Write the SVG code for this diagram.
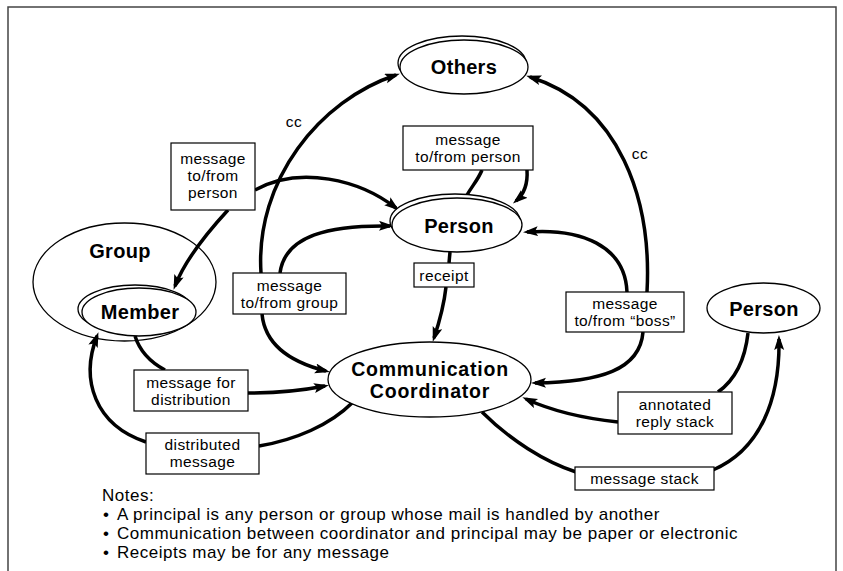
<svg xmlns="http://www.w3.org/2000/svg" width="843" height="571" viewBox="0 0 843 571">
<style>
  .frame{fill:none;stroke:#444;stroke-width:1.5}
  .node{fill:#fff;stroke:#000;stroke-width:1.3}
  .ring{fill:none;stroke:#000;stroke-width:1.3}
  .box{fill:#fff;stroke:#000;stroke-width:1.2}
  .title{font-family:"Liberation Sans",Arial,sans-serif;font-weight:bold;font-size:20px;text-anchor:middle;fill:#000;letter-spacing:0.3px}
  .title2{font-family:"Liberation Sans",Arial,sans-serif;font-weight:bold;font-size:19.5px;text-anchor:middle;fill:#000;letter-spacing:0.8px}
  .lbl{font-family:"Liberation Sans",Arial,sans-serif;font-size:15.5px;text-anchor:middle;fill:#000;letter-spacing:0.4px}
  .note{font-family:"Liberation Sans",Arial,sans-serif;font-size:17px;fill:#000;letter-spacing:0.5px}
  .conn{fill:none;stroke:#000;stroke-width:3.5}
  .arr{marker-end:url(#ah)}
</style>
<defs>
  <marker id="ah" markerUnits="userSpaceOnUse" markerWidth="16" markerHeight="12" refX="11" refY="5" orient="auto">
    <path d="M0,0 L15,5 L0,10 L3,5 z" fill="#000"/>
  </marker>
</defs>
<rect x="0" y="0" width="843" height="571" fill="#fff"/>
<path class="frame" d="M8,575 V7 H836 V575"/>

<g id="group">
  <ellipse class="ring" cx="124.5" cy="282" rx="91.5" ry="59"/>
  <text class="title" x="120" y="258">Group</text>
</g>

<g id="connectors">
  <!-- cc left -->
  <path class="conn arr" d="M261,273 C255,180 320,100 396,75"/>
  <!-- cc right -->
  <path class="conn arr" d="M647,292 C652,200 620,105 530,77"/>
  <!-- top box -->
  <path class="conn" d="M482,170 C478,180 472,186 467,195"/>
  <path class="conn arr" d="M527,170 C528,185 523,195 516,201"/>
  <!-- left box to person / member -->
  <path class="conn arr" d="M255,190 C300,165 360,180 396,208"/>
  <path class="conn arr" d="M228,210 C205,235 185,260 175,286"/>
  <!-- message to/from group -->
  <path class="conn arr" d="M280,273 C285,235 330,225 390,226"/>
  <path class="conn arr" d="M262,314 C265,345 290,362 326,371"/>
  <!-- receipt -->
  <path class="conn" d="M450,252 L449,263"/>
  <path class="conn arr" d="M446,287 C444,305 440,320 434,338"/>
  <!-- boss -->
  <path class="conn arr" d="M627,292 C625,245 580,228 527,232"/>
  <path class="conn arr" d="M643,332 C640,370 600,382 535,383"/>
  <!-- annotated reply stack -->
  <path class="conn" d="M748,333 C745,360 735,380 718,392"/>
  <path class="conn arr" d="M618,422 C580,418 550,410 526,399"/>
  <!-- message stack -->
  <path class="conn" d="M482,412 C510,440 545,462 576,472"/>
  <path class="conn arr" d="M713,470 C760,450 780,400 779,339"/>
  <!-- message for distribution -->
  <path class="conn" d="M135,336 C140,352 150,362 165,370"/>
  <path class="conn arr" d="M248,393 C280,393 305,390 325,386"/>
  <!-- distributed message -->
  <path class="conn" d="M352,403 C330,425 295,440 259,446"/>
  <path class="conn arr" d="M146,442 C95,425 80,380 97,336"/>
</g>

<g id="others">
  <ellipse class="node" cx="462" cy="63" rx="64" ry="27"/>
  <ellipse class="node" cx="464" cy="67" rx="64" ry="27"/>
  <text class="title" x="464" y="74">Others</text>
</g>

<g id="person-center">
  <ellipse class="node" cx="455" cy="221" rx="65" ry="27"/>
  <ellipse class="node" cx="457" cy="225" rx="65" ry="27"/>
  <text class="title" x="459" y="233">Person</text>
</g>

<g id="member">
  <ellipse class="node" cx="135" cy="309" rx="57" ry="24"/>
  <ellipse class="node" cx="139" cy="312" rx="57" ry="24"/>
  <text class="title" x="140" y="319">Member</text>
</g>

<g id="coordinator">
  <ellipse class="node" cx="429.5" cy="379.5" rx="101.5" ry="37.5"/>
  <text class="title2" x="430" y="376">Communication</text>
  <text class="title2" x="430" y="398">Coordinator</text>
</g>

<g id="person-right">
  <ellipse class="node" cx="763.5" cy="308" rx="56.5" ry="25"/>
  <text class="title" x="764" y="316">Person</text>
</g>

<g id="cc-left"><text class="lbl" x="294" y="127">cc</text></g>
<g id="cc-right"><text class="lbl" x="640" y="159">cc</text></g>

<g id="box-msg-person-left">
  <rect class="box" x="171" y="143" width="84" height="67"/>
  <text class="lbl" x="213" y="164">message</text>
  <text class="lbl" x="213" y="181">to/from</text>
  <text class="lbl" x="213" y="198">person</text>
</g>

<g id="box-msg-person-top">
  <rect class="box" x="403" y="126" width="130" height="44"/>
  <text class="lbl" x="468" y="145">message</text>
  <text class="lbl" x="468" y="162">to/from person</text>
</g>

<g id="box-receipt">
  <rect class="box" x="414" y="263" width="60" height="24"/>
  <text class="lbl" x="444" y="281">receipt</text>
</g>

<g id="box-msg-group">
  <rect class="box" x="233" y="273" width="113" height="41"/>
  <text class="lbl" x="289.5" y="291">message</text>
  <text class="lbl" x="289.5" y="308">to/from group</text>
</g>

<g id="box-msg-boss">
  <rect class="box" x="566" y="292" width="118" height="40"/>
  <text class="lbl" x="625" y="309">message</text>
  <text class="lbl" x="625" y="326">to/from “boss”</text>
</g>

<g id="box-annotated">
  <rect class="box" x="618" y="392" width="114" height="42"/>
  <text class="lbl" x="675" y="410">annotated</text>
  <text class="lbl" x="675" y="427">reply stack</text>
</g>

<g id="box-msg-stack">
  <rect class="box" x="575" y="467" width="139" height="23"/>
  <text class="lbl" x="644.5" y="484">message stack</text>
</g>

<g id="box-msg-distribution">
  <rect class="box" x="134" y="370" width="114" height="41"/>
  <text class="lbl" x="191" y="388">message for</text>
  <text class="lbl" x="191" y="405">distribution</text>
</g>

<g id="box-distributed">
  <rect class="box" x="146" y="433" width="113" height="41"/>
  <text class="lbl" x="202.5" y="450">distributed</text>
  <text class="lbl" x="202.5" y="467">message</text>
</g>

<g id="notes">
  <text class="note" x="102" y="501">Notes:</text>
  <text class="note" x="103" y="520">•</text>
  <text class="note" x="117" y="520">A principal is any person or group whose mail is handled by another</text>
  <text class="note" x="103" y="539">•</text>
  <text class="note" x="117" y="539">Communication between coordinator and principal may be paper or electronic</text>
  <text class="note" x="103" y="558">•</text>
  <text class="note" x="117" y="558">Receipts may be for any message</text>
</g>
</svg>
